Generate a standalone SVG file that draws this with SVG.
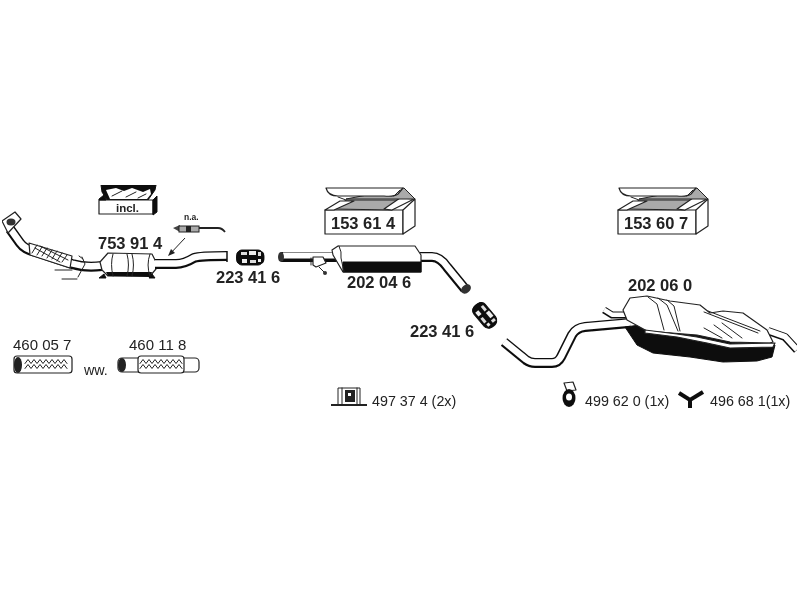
<svg xmlns="http://www.w3.org/2000/svg" width="800" height="600" viewBox="0 0 800 600">
<style>
.b{font:bold 16.5px "Liberation Sans",Arial,sans-serif;fill:#222}
.n{font:15px "Liberation Sans",Arial,sans-serif;fill:#222}
.s{font:14.3px "Liberation Sans",Arial,sans-serif;fill:#222}
.o{fill:#fff;stroke:#222;stroke-width:1.2;stroke-linejoin:round}
.k{fill:#111;stroke:#111;stroke-width:1;stroke-linejoin:round}
.g{fill:#aaa;stroke:#222;stroke-width:1}
.l{fill:none;stroke:#222;stroke-width:1;stroke-linejoin:round;stroke-linecap:round}
.pk{fill:none;stroke:#111;stroke-linejoin:round}
.pw{fill:none;stroke:#fff;stroke-linejoin:round}
</style>
<defs>
<filter id="soft" x="0" y="0" width="100%" height="100%"><feGaussianBlur stdDeviation="0.35"/></filter>
<g id="box">
<path class="o" d="M1 22H79V46H1Z"/>
<path class="o" d="M79 46L91 38V11L79 22Z"/>
<path class="g" d="M10 21L22 12H80L68 22Z"/>
<path class="o" d="M1 22L16 13L30 13L10 22Z"/>
<path class="o" d="M68 22L90 11L76 10L60 21Z"/>
<path class="g" d="M22 11L80 0L91 11L78 11Z"/>
<path class="o" d="M2 0H79L74 6Q70 9 60 8H14Q4 8 2 0Z"/>
<path class="l" d="M14 9L22 12M76 2L70 8"/>
</g>
<g id="clamp">
<rect class="k" x="1" y="0" width="26" height="15" rx="5"/>
<ellipse cx="2.500" cy="7.500" rx="2.500" ry="6" fill="#111"/>
<ellipse cx="26" cy="7.500" rx="2.500" ry="6" fill="#111"/>
<rect x="5" y="2" width="6" height="3" fill="#ddd"/>
<rect x="13" y="1" width="7" height="4" fill="#eee"/>
<rect x="22" y="2" width="3" height="4" fill="#ddd"/>
<rect x="6" y="9" width="5" height="4" fill="#eee"/>
<rect x="14" y="10" width="6" height="3" fill="#ddd"/>
<rect x="22" y="9" width="3" height="3" fill="#eee"/>
</g>
<g id="zig">
<path class="l" stroke-width="1.100" d="M0 5L3 1L6 5L9 1L12 5L15 1L18 5L21 1L24 5L27 1L30 5L33 1L36 5L39 1L42 5"/>
<path class="l" stroke-width="1.100" d="M0 10L3 6L6 10L9 6L12 10L15 6L18 10L21 6L24 10L27 6L30 10L33 6L36 10L39 6L42 10"/>
</g>
<path id="p1" d="M10 229L20 243Q25 250 36 252L72 264Q85 268 102 266"/>
<path id="p2" d="M155 264H176Q184 264 194 258Q200 256 227 256"/>
<path id="p3" d="M420 257H432Q440 257 447 267L465 289"/>
<path id="p4" d="M504 342L526 360Q530 363 535 363H552Q558 363 561 357L572 335Q576 328 585 327L630 323"/>
<path id="p5" d="M604 310L612 315H630"/>
<path id="p6" d="M768 331L785 337L797 350"/>
</defs>

<g filter="url(#soft)">
<g id="connectors">
<path d="M185 238L169 255" fill="none" stroke="#222" stroke-width="1"/>
<path d="M168 256L171 249L175 253Z" fill="#222"/>
</g>

<g id="box-incl">
<path class="k" d="M101 185H156L155 190L148 200H107L102 192Z"/>
<path d="M106 190L116 188L124 191L132 188L143 192L150 189L151 194L147 199H110Z" fill="#fff"/>
<path class="l" stroke-width="1.500" d="M112 196L122 191M126 197L136 192M138 198L146 194"/>
<path class="o" d="M99 200H153V214H99Z" stroke-width="1.600"/>
<path class="k" d="M99 199L104 195L106 200H99ZM153 200L157 196V212L153 215Z"/>
<text x="116" y="212" style="font:bold 11.5px 'Liberation Sans',Arial,sans-serif" fill="#222">incl.</text>
</g>

<g id="box-153614"><use href="#box" x="324" y="188"/><text class="b" x="331" y="229">153 61 4</text></g>
<g id="box-153607"><use href="#box" x="617" y="188"/><text class="b" x="624" y="229">153 60 7</text></g>

<g id="sensor">
<text x="184" y="220" style="font:bold 8.5px 'Liberation Sans',Arial,sans-serif" fill="#222">n.a.</text>
<path d="M173 228L180 225V232Z" fill="#444"/>
<rect class="g" x="179" y="226" width="20" height="6"/>
<rect x="186" y="226" width="5" height="6" fill="#222"/>
<path d="M199 228H218Q222 228 225 232" fill="none" stroke="#222" stroke-width="1.800"/>
</g>

<g id="part-753914">
<text class="b" x="98" y="249">753 91 4</text>
<use href="#p1" class="pk" stroke-width="10"/>
<use href="#p1" class="pw" stroke-width="6.500" y="-0.500"/>
<path class="o" d="M29 243L72 256L70 268L30 255Z"/>
<path class="l" d="M32 253L37 245M37 255L42 247M42 256L47 248M47 258L52 250M52 259L57 251M57 261L62 253M62 262L67 255M35 248L60 262M40 246L68 260"/>
<path class="o" d="M2 221L15 212L21 219L8 233Z" stroke-width="2.500"/>
<ellipse cx="11" cy="222" rx="4.500" ry="3.500" fill="#333"/>
<path class="l" d="M82 257L85 264L78 277M79 256L83 259" stroke-width="1.500"/>
<path class="l" d="M55 270H72M62 279H77" stroke-width="2.500"/>
<path class="o" d="M100 262L108 253L152 254L156 262V269L150 276H108L102 270Z"/>
<path d="M108 276L106 272H152L150 277Z" fill="#111"/>
<path class="l" d="M113 254Q110 264 113 276M127 254Q130 265 127 276M132 254Q135 265 132 276M150 254Q146 265 150 276"/>
<path class="k" d="M99 278L104 274L106 278ZM149 278L152 274L155 278Z"/>
<use href="#p2" class="pk" stroke-width="10"/>
<use href="#p2" class="pw" stroke-width="6.500" y="-0.500"/>
<path d="M227 251V262" stroke="#111" stroke-width="1.500"/>
</g>

<g id="clamp-223416a"><use href="#clamp" x="236" y="250"/><text class="b" x="216" y="283">223 41 6</text></g>

<g id="part-202046">
<text class="b" x="347" y="288">202 04 6</text>
<path class="pk" stroke-width="10" d="M281 257H340"/>
<path class="pw" stroke-width="6" d="M283 255.500H338"/>
<ellipse cx="281" cy="257" rx="3" ry="5" fill="#333"/>
<use href="#p3" class="pk" stroke-width="10"/>
<use href="#p3" class="pw" stroke-width="6.500" y="-0.500"/>
<path class="o" d="M332 250L338 246H415L421 255V272H343L333 255Z"/>
<path class="k" d="M343 262H421V272H343Z"/>
<path class="l" d="M339 246Q342 252 341 258L344 272"/>
<path class="o" d="M313 257H323L326 263L316 267L313 265Z"/>
<path class="l" d="M319 267L325 273M311 258V265" stroke-width="1.500"/>
<ellipse cx="325" cy="273" rx="2" ry="2" fill="#333"/>
<ellipse cx="466" cy="289" rx="5.500" ry="4" transform="rotate(-40 466 289)" fill="#333"/>
</g>

<g id="clamp-223416b"><use href="#clamp" x="471" y="308" transform="rotate(50 485 315)"/><text class="b" x="410" y="337">223 41 6</text></g>

<g id="part-202060">
<text class="b" x="628" y="291">202 06 0</text>
<use href="#p4" class="pk" stroke-width="10"/>
<use href="#p4" class="pw" stroke-width="6.500" y="-0.500"/>
<use href="#p5" class="pk" stroke-width="7"/>
<use href="#p5" class="pw" stroke-width="4.500" y="-0.300"/>
<use href="#p6" class="pk" stroke-width="8"/>
<use href="#p6" class="pw" stroke-width="5.500" y="-0.300"/>
<path class="k" d="M625 327L637 345L653 353L690 357L723 362L757 361L772 357L775 345L700 335L640 325Z"/>
<path class="o" d="M623 310L630 298L647 296L670 301L700 305L710 313L723 311L743 313L767 330L773 342L770 343L730 342L697 335L647 331L627 320Z"/>
<path class="o" d="M645 333L677 337L707 343L730 348L773 347L775 343L730 344L697 337L677 334L645 330Z"/>
<path class="l" d="M648 297L657 304L664 330M658 298L667 305L678 331M667 300L674 306L680 331"/>
<path class="l" d="M704 312L758 333M708 311L760 331M704 328L722 338M714 325L732 338M722 323L742 338"/>
</g>

<g id="flex-460057">
<text class="n" x="13" y="350">460 05 7</text>
<rect class="o" x="14" y="356" width="58" height="17" rx="3" stroke-width="1.500"/>
<ellipse cx="18" cy="365" rx="4" ry="8" fill="#222"/>
<use href="#zig" x="25" y="358.500"/>
</g>

<text class="s" x="84" y="375" id="ww">ww.</text>

<g id="flex-460118">
<text class="n" x="129" y="350">460 11 8</text>
<rect class="o" x="118" y="358" width="81" height="14" rx="4" stroke-width="1.500"/>
<ellipse cx="122" cy="365" rx="4" ry="7" fill="#222"/>
<rect class="o" x="138" y="356" width="46" height="17" rx="3"/>
<use href="#zig" x="140" y="358.500"/>
</g>

<g id="mount-497374">
<path d="M331 405H367" stroke="#222" stroke-width="1.800"/>
<path class="l" stroke-width="1.800" d="M338 405V388H360V405M342 405V388M357 405V388"/>
<rect x="345" y="390" width="10" height="12" fill="#222"/>
<rect x="348" y="393" width="3" height="3" fill="#fff"/>
<text class="s" x="372" y="406">497 37 4 (2x)</text>
</g>

<g id="mount-499620">
<path class="o" d="M564 383L573 382L576 390L567 391Z"/>
<ellipse cx="569" cy="398" rx="6.500" ry="9" fill="#111"/>
<ellipse cx="569" cy="397" rx="3" ry="3.500" fill="#fff"/>
<text class="s" x="585" y="406">499 62 0 (1x)</text>
</g>

<g id="mount-496681">
<path d="M679 393L690 400L703 392M690 400V408" fill="none" stroke="#111" stroke-width="4"/>
<text class="s" x="710" y="406">496 68 1(1x)</text>
</g>
</g>
</svg>
